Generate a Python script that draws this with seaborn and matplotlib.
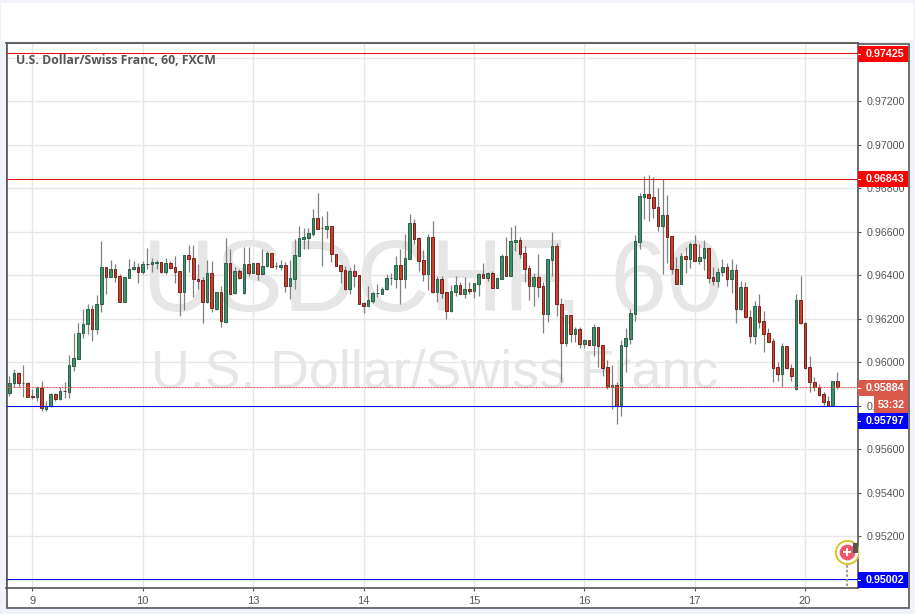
import matplotlib
matplotlib.use("Agg")
import matplotlib.pyplot as plt
from matplotlib.patches import Rectangle
import numpy as np
import pandas as pd
import seaborn as sns

# hourly candles, prices in 1e-5 units
opens = [95858, 95904, 95950, 95903, 95904, 95844, 95838, 95881, 95787, 95797,
         95853, 95830, 95868, 95865, 95985, 96017, 96133, 96174, 96244, 96155,
         96266, 96437, 96394, 96428, 96396, 96279, 96390, 96427, 96437, 96417,
         96452, 96450, 96459, 96460, 96416, 96456, 96437, 96419, 96325, 96492,
         96479, 96382, 96377, 96279, 96410, 96247, 96322, 96187, 96456, 96318,
         96419, 96318, 96451, 96413, 96456, 96404, 96443, 96502, 96443, 96440,
         96446, 96353, 96385, 96491, 96569, 96574, 96592, 96663, 96616, 96615,
         96626, 96497, 96446, 96423, 96335, 96419, 96400, 96272, 96261, 96284,
         96317, 96316, 96335, 96387, 96385, 96446, 96381, 96477, 96640, 96571,
         96469, 96408, 96575, 96322, 96382, 96322, 96238, 96325, 96354, 96316,
         96336, 96330, 96362, 96405, 96388, 96410, 96344, 96385, 96488, 96399,
         96555, 96561, 96502, 96433, 96353, 96391, 96350, 96220, 96472, 96534,
         96267, 96091, 96217, 96128, 96152, 96086, 96101, 96081, 96161, 96078,
         95977, 95887, 95894, 95800, 96077, 96109, 96224, 96555, 96762, 96773,
         96759, 96713, 96629, 96676, 96580, 96428, 96362, 96488, 96473, 96543,
         96468, 96482, 96525, 96391, 96376, 96417, 96437, 96381, 96423, 96243,
         96345, 96207, 96123, 96258, 96189, 96133, 96097, 95977, 95944, 96074,
         95973, 95876, 96285, 96180, 95977, 95908, 95884, 95853, 95821, 95800,
         95913]
highs = [95937, 95968, 95953, 95986, 95907, 95876, 95891, 95914, 95824, 95858,
         95858, 95885, 95910, 96034, 96133, 96180, 96246, 96267, 96264, 96308,
         96558, 96440, 96471, 96453, 96407, 96394, 96476, 96466, 96456, 96466,
         96525, 96479, 96471, 96462, 96479, 96466, 96489, 96422, 96492, 96540,
         96540, 96453, 96391, 96471, 96468, 96325, 96351, 96571, 96522, 96437,
         96431, 96529, 96529, 96456, 96459, 96520, 96512, 96505, 96460, 96471,
         96460, 96471, 96566, 96627, 96617, 96617, 96704, 96778, 96673, 96695,
         96627, 96499, 96446, 96443, 96433, 96453, 96402, 96278, 96351, 96322,
         96361, 96348, 96407, 96413, 96489, 96522, 96591, 96683, 96658, 96575,
         96517, 96591, 96650, 96397, 96397, 96324, 96356, 96397, 96368, 96391,
         96370, 96364, 96410, 96456, 96417, 96420, 96391, 96499, 96577, 96621,
         96632, 96578, 96535, 96448, 96410, 96499, 96370, 96474, 96598, 96551,
         96295, 96217, 96218, 96164, 96164, 96106, 96103, 96177, 96164, 96080,
         96011, 95988, 95911, 96103, 96160, 96244, 96586, 96778, 96857, 96862,
         96854, 96802, 96842, 96770, 96581, 96483, 96502, 96529, 96555, 96586,
         96545, 96563, 96528, 96437, 96433, 96476, 96459, 96476, 96453, 96374,
         96368, 96241, 96284, 96313, 96236, 96157, 96111, 96003, 96091, 96075,
         95993, 96315, 96397, 96184, 96029, 95934, 95901, 95865, 95845, 95913,
         95953]
lows = [95847, 95885, 95888, 95842, 95838, 95833, 95824, 95778, 95778, 95792,
        95824, 95827, 95836, 95836, 95960, 96016, 96113, 96131, 96098, 96131,
        96232, 96315, 96391, 96370, 96278, 96278, 96388, 96425, 96367, 96407,
        96430, 96416, 96431, 96413, 96407, 96430, 96367, 96215, 96241, 96416,
        96302, 96339, 96183, 96275, 96233, 96241, 96164, 96180, 96312, 96315,
        96384, 96316, 96397, 96410, 96379, 96400, 96440, 96437, 96428, 96425,
        96325, 96292, 96338, 96489, 96522, 96522, 96581, 96615, 96443, 96571,
        96462, 96442, 96365, 96333, 96315, 96348, 96269, 96227, 96259, 96275,
        96302, 96313, 96333, 96356, 96342, 96266, 96344, 96477, 96545, 96420,
        96376, 96333, 96321, 96279, 96298, 96201, 96233, 96305, 96313, 96298,
        96313, 96295, 96305, 96390, 96374, 96344, 96342, 96385, 96397, 96397,
        96512, 96482, 96370, 96287, 96259, 96302, 96135, 96186, 96397, 96213,
        95907, 96075, 96094, 96095, 96066, 96065, 96080, 96031, 95980, 95939,
        95879, 95784, 95714, 95753, 95953, 96086, 96192, 96523, 96661, 96652,
        96666, 96604, 96404, 96459, 96408, 96358, 96361, 96413, 96436, 96468,
        96450, 96425, 96367, 96356, 96348, 96397, 96351, 96321, 96183, 96241,
        96206, 96091, 96085, 96160, 96049, 96092, 95907, 95916, 95885, 95968,
        95916, 95873, 96177, 95971, 95865, 95867, 95847, 95797, 95797, 95800,
        95876]
closes = [95904, 95950, 95904, 95905, 95842, 95838, 95882, 95789, 95797, 95853,
          95829, 95867, 95866, 95986, 96019, 96133, 96175, 96244, 96155, 96267,
          96437, 96394, 96428, 96394, 96279, 96391, 96428, 96437, 96417, 96451,
          96450, 96460, 96461, 96416, 96456, 96436, 96417, 96325, 96492, 96477,
          96381, 96376, 96279, 96410, 96249, 96322, 96192, 96456, 96315, 96419,
          96390, 96451, 96413, 96456, 96404, 96445, 96502, 96440, 96441, 96446,
          96353, 96387, 96492, 96571, 96575, 96594, 96663, 96615, 96618, 96626,
          96496, 96445, 96422, 96335, 96419, 96399, 96270, 96261, 96285, 96318,
          96319, 96336, 96387, 96389, 96446, 96381, 96479, 96640, 96569, 96468,
          96408, 96575, 96322, 96382, 96321, 96238, 96327, 96354, 96316, 96336,
          96330, 96364, 96404, 96390, 96410, 96344, 96387, 96488, 96399, 96557,
          96561, 96500, 96431, 96353, 96391, 96348, 96220, 96474, 96534, 96266,
          96091, 96217, 96128, 96152, 96086, 96101, 96081, 96161, 96077, 95976,
          95887, 95894, 95800, 96078, 96111, 96226, 96557, 96764, 96773, 96758,
          96712, 96629, 96676, 96578, 96428, 96361, 96488, 96473, 96543, 96468,
          96483, 96525, 96390, 96376, 96417, 96437, 96381, 96423, 96243, 96345,
          96207, 96123, 96258, 96187, 96132, 96095, 95976, 95944, 96074, 95973,
          95939, 96285, 96180, 95976, 95907, 95884, 95851, 95819, 95800, 95913,
          95884]

day_labels = ["9", "10", "13", "14", "15", "16", "17", "20"]
day_starts = [5, 29, 53, 77, 101, 125, 149, 173]
price_ticks = [0.950, 0.952, 0.954, 0.956, 0.958, 0.960, 0.962, 0.964, 0.966,
               0.968, 0.970, 0.972, 0.974]
res_levels = [0.97425, 0.96843]
sup_levels = [0.95797, 0.95002]
last_price = 0.95884

W, H = 915, 614
GREEN, GREEN_EDGE = "#3f9069", "#245a42"
RED, RED_EDGE = "#cf3d2c", "#6a1e14"
GRID = "#e6e6e6"
TXT = "#555555"
WM = "#e6e6e6"
SANS = "Liberation Sans"

sns.set_style("white")
plt.rcParams["font.family"] = [SANS, "DejaVu Sans"]

df = pd.DataFrame({"idx": np.arange(len(opens)), "open": opens, "high": highs,
                   "low": lows, "close": closes})
df[["open", "high", "low", "close"]] = df[["open", "high", "low", "close"]] / 1e5
df["body"] = (df["close"] - df["open"]).abs()
df["bottom"] = df[["open", "close"]].min(axis=1)
up = df[df["close"] >= df["open"]]
down = df[df["close"] < df["open"]]

fig = plt.figure(figsize=(W / 100, H / 100), dpi=100, facecolor="#f0f3f7")


def px_rect(x0, y0, x1, y1, color, z, edge="none", lw=0):
    r = Rectangle((x0 / W, 1 - y1 / H), (x1 - x0) / W, (y1 - y0) / H,
                  transform=fig.transFigure, facecolor=color, edgecolor=edge,
                  linewidth=lw, zorder=z)
    fig.add_artist(r)


def px_text(x, y, s, **kw):
    fig.text(x / W, 1 - y / H, s, **kw)


px_rect(1, 3, 913, 41, "white", -2)
px_rect(6.5, 43.5, 908.5, 607.5, "white", -1, edge="#555555", lw=1.2)

ax = fig.add_axes([6.5 / W, 1 - 588 / H, (858 - 6.5) / W, (588 - 43) / H])
ax.set_zorder(1)
ax.patch.set_alpha(0)

ax.vlines(df["idx"], df["low"], df["high"], color="#808080", lw=0.9, zorder=3)
sns.barplot(data=up, x="idx", y="body", bottom=up["bottom"].to_numpy(), native_scale=True,
            width=0.58, color=GREEN, saturation=1, edgecolor=GREEN_EDGE, linewidth=0.65,
            errorbar=None, ax=ax, zorder=4)
sns.barplot(data=down, x="idx", y="body", bottom=down["bottom"].to_numpy(), native_scale=True,
            width=0.58, color=RED, saturation=1, edgecolor=RED_EDGE, linewidth=0.65,
            errorbar=None, ax=ax, zorder=4)

ax.set_xlim(-0.609, 184.5)
ax.set_ylim(0.949615, 0.97469)
ax.set_xlabel("")
ax.set_ylabel("")
ax.set_xticks(day_starts, day_labels)
ax.set_yticks(price_ticks, [f"{p:.5f}" for p in price_ticks])
ax.yaxis.tick_right()
ax.tick_params(axis="both", length=2.2, width=0.8, color="#555555", labelcolor=TXT,
               labelsize=7.7, left=False, right=True, bottom=True)
ax.tick_params(axis="y", pad=4)
ax.tick_params(axis="x", pad=3.5, labelsize=8)
ax.grid(True, color=GRID, lw=1.0)
ax.set_axisbelow(True)
for s in ax.spines.values():
    s.set_visible(True)
    s.set_color("#555555")
    s.set_linewidth(1.2)

for lv in res_levels:
    ax.axhline(lv, color="#e01010", lw=0.75, zorder=5)
for lv in sup_levels:
    ax.axhline(lv, color="#0000ff", lw=0.75, zorder=5)
ax.axhline(last_price, color="#d9594a", lw=0.72, ls=(0, (2, 1)), zorder=5)

# watermark, behind the axes but above the white panel
px_rect(7, 44, 857.5, 587.5, "white", 0)
px_text(433, 284, "USDCHF, 60", fontsize=73.2, color=WM, ha="center", va="center",
        family=SANS, zorder=0.5)
px_text(434.5, 373, "U.S. Dollar/Swiss Franc", fontsize=38.7, color=WM, ha="center",
        va="center", family=SANS, zorder=0.5)

# title
px_text(16, 60.5, "U.S. Dollar/Swiss Franc, 60, FXCM", fontsize=8.8, color=TXT, ha="left",
        va="center", family="Open Sans", weight="bold", zorder=6)

# event marker
ax.plot([182.1, 182.1], [0.9497, 0.95082], color="#999999", lw=1.5, ls=(0, (1.2, 1)),
        zorder=6)
ax.scatter([182.1], [0.95127], s=280, facecolor="white", edgecolor="#d6bf1e",
           linewidth=1.3, zorder=7, clip_on=True)
ax.scatter([182.1], [0.95127], s=128, color="#f0566b", linewidth=0, zorder=8)
ax.scatter([182.1], [0.95127], s=40, marker="P", color="white", linewidth=0, zorder=9)
px_rect(853, 543, 858, 553, "#555555", 6)

# price tags
tags = [("0.97425", 46, 62, "#ff0000"), ("0.96843", 171, 187, "#ff0000"),
        ("0.95884", 380, 396, "#d9594a"), ("0.95797", 413, 429, "#0000ff"),
        ("0.95002", 572, 588, "#0000ff")]
for s, y0, y1, c in tags:
    px_rect(858, y0, 908, y1, c, 5)
    px_text(885, (y0 + y1) / 2, s, fontsize=7.7, color="white", ha="center", va="center",
            weight="bold", zorder=6)
    px_rect(858, (y0 + y1) / 2 - 0.5, 861, (y0 + y1) / 2 + 0.5, "white", 6)
px_rect(874, 396, 908, 413, "#d9594a", 5)
px_text(891, 405, "53:32", fontsize=7.7, color="white", ha="center", va="center",
        weight="bold", zorder=6)

fig.savefig("out.png", dpi=100, facecolor=fig.get_facecolor())
